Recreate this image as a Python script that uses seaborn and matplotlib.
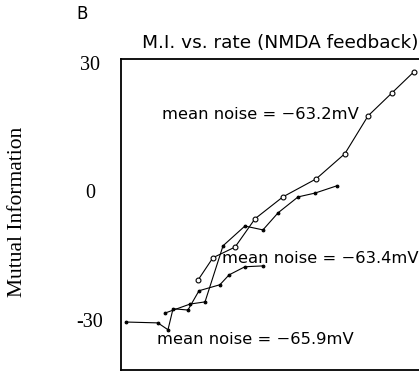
import pandas as pd
import seaborn as sns
import matplotlib.pyplot as plt

# firing rate (arbitrary units) and mutual information for three noise levels
rate_632 = [24.5, 29.2, 36.2, 42.5, 51.3, 61.8, 70.9, 78.2, 85.8, 92.7]
mi_632 = [-20.7, -15.5, -13.0, -6.4, -1.3, 2.9, 8.8, 17.6, 23.0, 27.9]

rate_634 = [14.1, 22.0, 26.7, 32.4, 39.3, 45.0, 49.8, 56.1, 61.5, 68.4]
mi_634 = [-28.4, -26.3, -25.8, -12.7, -8.1, -9.0, -5.0, -1.3, -0.4, 1.3]

rate_659 = [1.7, 11.8, 15.0, 16.6, 21.3, 24.8, 31.4, 34.3, 39.3, 45.0]
mi_659 = [-30.5, -30.7, -32.3, -27.4, -27.7, -23.2, -21.8, -19.5, -17.6, -17.4]

labels = ['mean noise = \u221263.2mV', 'mean noise = \u221263.4mV', 'mean noise = \u221265.9mV']
label_x = [13.0, 32.0, 11.4]
label_y = [16.9, -16.8, -35.6]

yticks = [-30, 0, 30]
yticklabels = ['-30', '0', '30']

sns.set_style('white')
plt.rcParams['font.family'] = ['DejaVu Sans']
plt.rcParams['text.color'] = 'black'
plt.rcParams['ytick.color'] = 'black'
plt.rcParams['axes.labelcolor'] = 'black'

fig = plt.figure(figsize=(4.19, 3.73), dpi=100)
ax = fig.add_axes([0.2876, 0.008, 0.7554, 0.834])

df_a = pd.DataFrame({'rate': rate_632, 'mi': mi_632})
df_b = pd.DataFrame({'rate': rate_634, 'mi': mi_634})
df_c = pd.DataFrame({'rate': rate_659, 'mi': mi_659})

sns.lineplot(data=df_a, x='rate', y='mi', ax=ax, color='black', lw=0.8, sort=False,
             estimator=None, marker='o', markersize=3.5, markerfacecolor='white',
             markeredgecolor='black', markeredgewidth=0.8)
sns.lineplot(data=df_b, x='rate', y='mi', ax=ax, color='black', lw=0.8, sort=False,
             estimator=None, marker='.', markersize=4, markeredgecolor='black')
sns.lineplot(data=df_c, x='rate', y='mi', ax=ax, color='black', lw=0.8, sort=False,
             estimator=None, marker='.', markersize=4, markeredgecolor='black')

for t, x, y in zip(labels, label_x, label_y):
    ax.text(x, y, t, fontsize=11.8, ha='left', va='baseline', color='black')

ax.set_xlim(0, 100)
ax.set_ylim(-41.7, 30.9)
ax.set_xticks([])
ax.set_yticks(yticks)
ax.set_yticklabels(yticklabels, family='Liberation Serif', fontsize=14.5, ha='center',
                   color='black')
ax.tick_params(axis='y', length=0, pad=22)
ax.set_xlabel('')
ax.set_ylabel('Mutual Information', family='Liberation Serif', fontsize=15.5, color='black')
ax.yaxis.set_label_coords(-0.295, 0.508)

for s in ax.spines.values():
    s.set_color('black')
    s.set_linewidth(1.3)

ax.set_title('M.I. vs. rate (NMDA feedback)', fontsize=13.3, x=0.5055, pad=7.7, color='black')
fig.text(82.5 / 419, 1 - 19 / 373, 'B', fontsize=12, ha='center', va='baseline', color='black')

fig.savefig('out.png', dpi=100)
